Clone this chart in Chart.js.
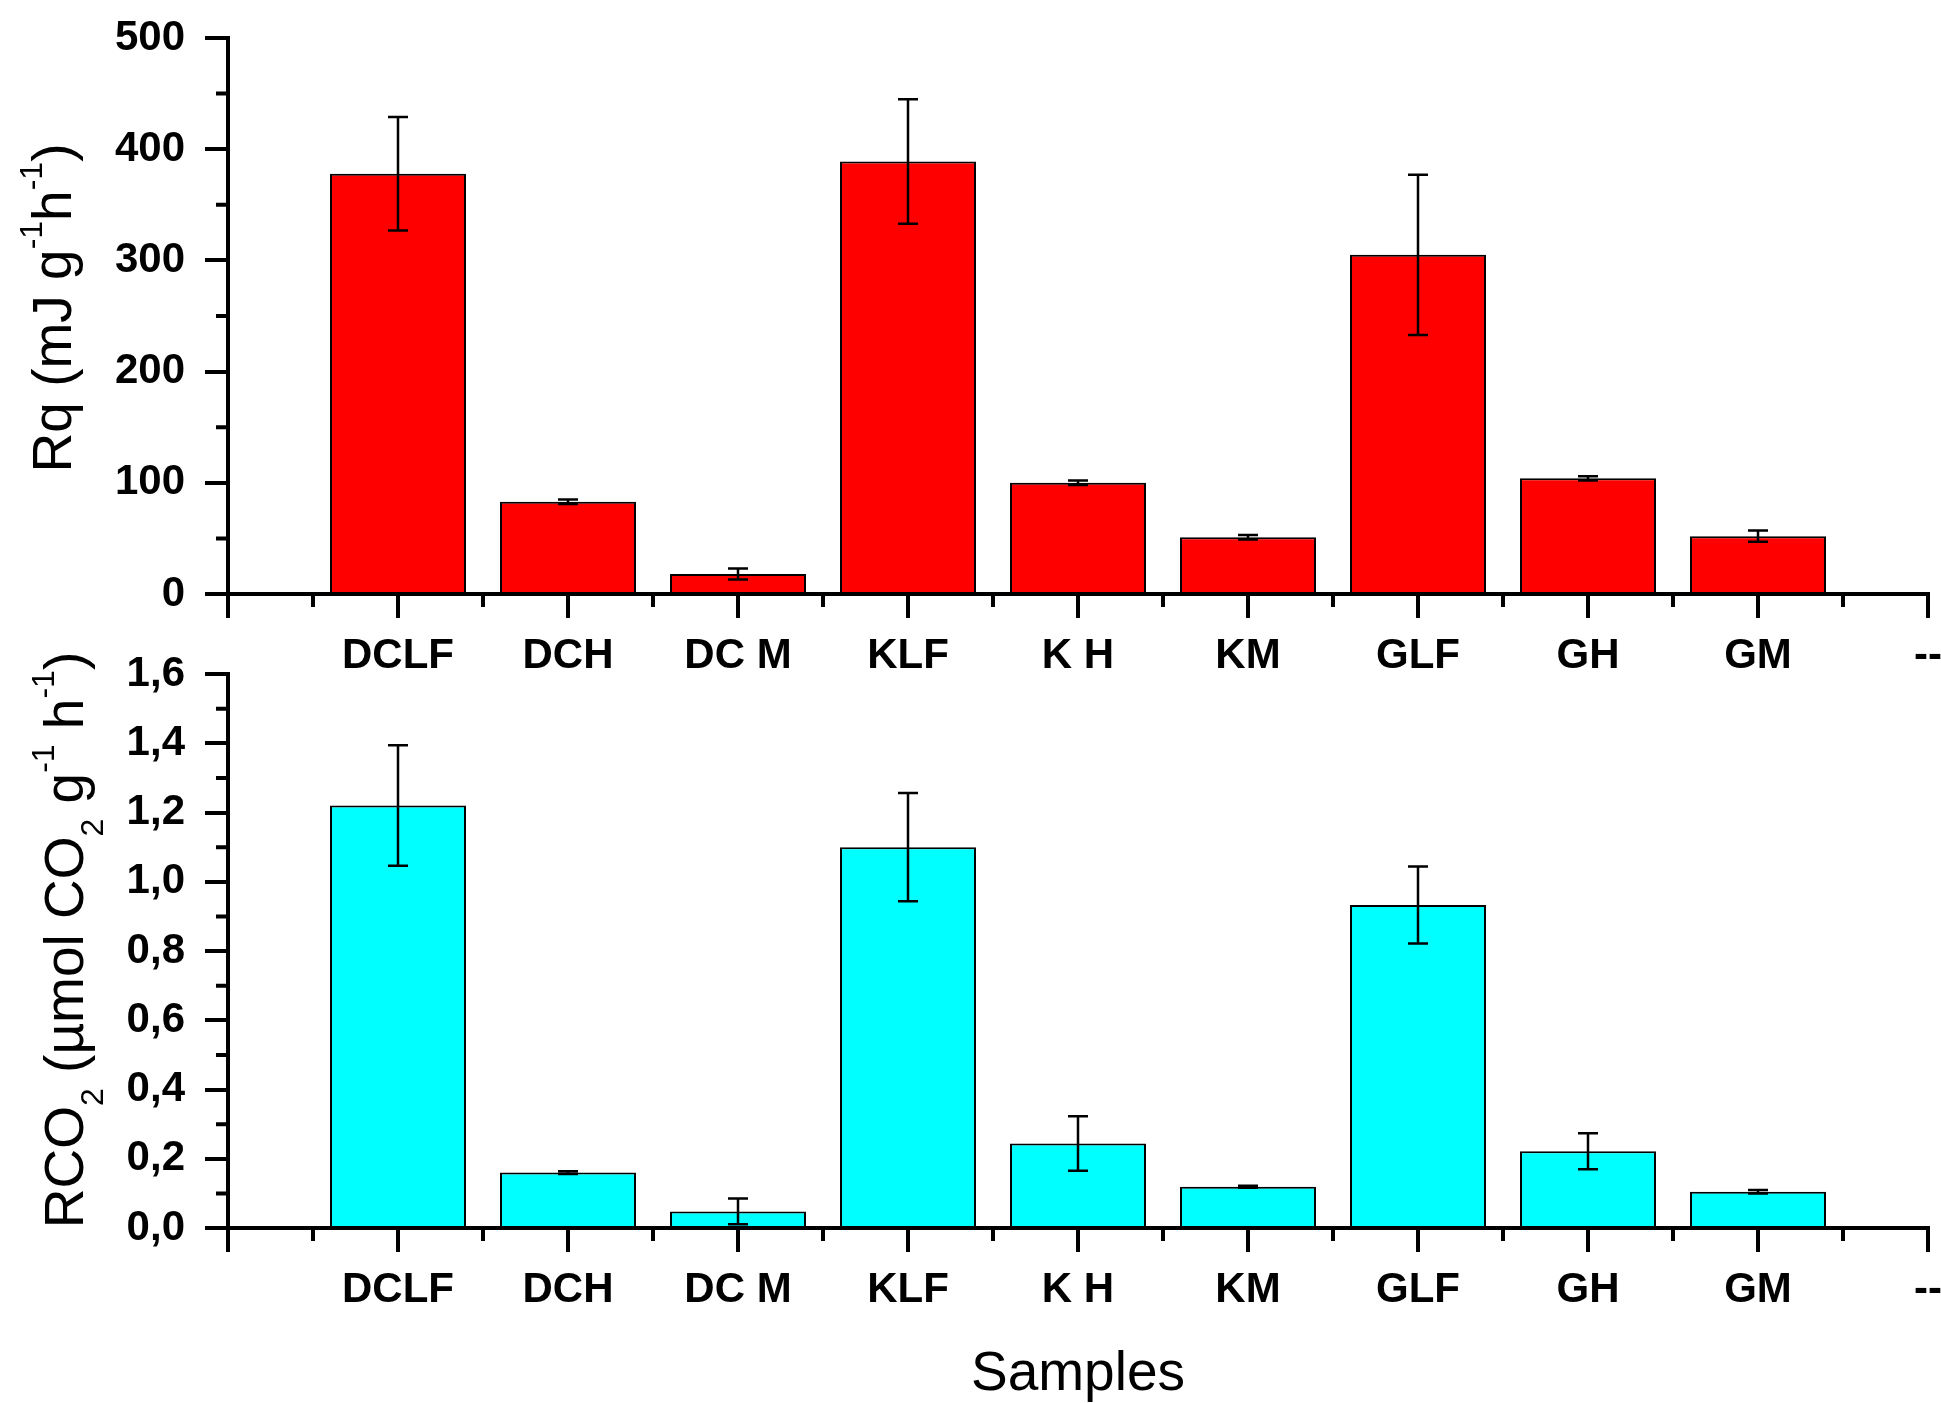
<!DOCTYPE html>
<html>
<head>
<meta charset="utf-8">
<title>Rq and RCO2 by sample</title>
<script src="https://cdn.jsdelivr.net/npm/chart.js@4.4.0/dist/chart.umd.min.js"></script>
<style>
  html, body { margin: 0; padding: 0; background: #fff; }
  body { width: 1941px; height: 1403px; position: relative; overflow: hidden; }
  .panel { position: absolute; left: 0; width: 1941px; }
  #rqWrap { top: 0; height: 700px; }
  #co2Wrap { top: 610px; height: 793px; }
</style>
</head>
<body>
<div id="rqWrap" class="panel"><canvas id="rqCanvas"></canvas></div>
<div id="co2Wrap" class="panel"><canvas id="co2Canvas"></canvas></div>
<script>
// categories (first and last slots are the empty ends of the Origin axis)
const samples = ['', 'DCLF', 'DCH', 'DC M', 'KLF', 'K H', 'KM', 'GLF', 'GH', 'GM', '--'];

// Rq (mJ g-1 h-1)
const rqValues = [null, 378, 83, 18, 389, 100, 51, 305, 104, 52, null];
const rqErrors = [null, 51, 2, 5, 56, 2, 2, 72, 2, 5, null];

// RCO2 (umol CO2 g-1 h-1)
const co2Values = [null, 1.22, 0.16, 0.048, 1.10, 0.244, 0.119, 0.933, 0.222, 0.105, null];
const co2Errors = [null, 0.174, 0.004, 0.037, 0.156, 0.079, 0.003, 0.111, 0.052, 0.005, null];

// axis titles, split where the sub/superscripts are
const rqTitle = [
    { text: 'Rq (mJ g' }, { text: '-1', sup: true }, { text: 'h' }, { text: '-1', sup: true }, { text: ')' }
];
const co2Title = [
    { text: 'RCO' }, { text: '2', sub: true }, { text: ' (\u00b5mol CO' }, { text: '2', sub: true },
    { text: ' g' }, { text: '-1', sup: true }, { text: ' h' }, { text: '-1', sup: true }, { text: ')' }
];
const xTitle = 'Samples';

const fontFamily = "'Liberation Sans', Arial, sans-serif";

// error bars on top of each bar
const errorBarPlugin = {
    id: 'errorBars',
    afterDatasetsDraw(chart, args, opts) {
        const meta = chart.getDatasetMeta(0);
        const yScale = chart.scales.y;
        const ctx = chart.ctx;
        ctx.save();
        ctx.strokeStyle = '#000';
        ctx.lineWidth = 2.5;
        meta.data.forEach((bar, i) => {
            const v = opts.values[i];
            const e = opts.errors[i];
            if (v == null || e == null) return;
            const top = yScale.getPixelForValue(v + e);
            const bottom = yScale.getPixelForValue(v - e);
            ctx.beginPath();
            ctx.moveTo(bar.x, top);
            ctx.lineTo(bar.x, bottom);
            ctx.moveTo(bar.x - 10, top);
            ctx.lineTo(bar.x + 10, top);
            ctx.moveTo(bar.x - 10, bottom);
            ctx.lineTo(bar.x + 10, bottom);
            ctx.stroke();
        });
        ctx.restore();
    }
};

// half-step ticks on both axes
const minorTickPlugin = {
    id: 'minorTicks',
    afterDraw(chart) {
        const xScale = chart.scales.x;
        const yScale = chart.scales.y;
        const ctx = chart.ctx;
        ctx.save();
        ctx.strokeStyle = '#000';
        ctx.lineWidth = 4;
        ctx.beginPath();
        for (let i = 0; i < samples.length - 1; i++) {
            const px = xScale.getPixelForValue(i + 0.5);
            ctx.moveTo(px, yScale.bottom);
            ctx.lineTo(px, yScale.bottom + 13);
        }
        const ticks = yScale.ticks;
        for (let i = 0; i < ticks.length - 1; i++) {
            const py = yScale.getPixelForValue((ticks[i].value + ticks[i + 1].value) / 2);
            ctx.moveTo(xScale.left - 12, py);
            ctx.lineTo(xScale.left, py);
        }
        ctx.stroke();
        ctx.restore();
    }
};

function drawRichText(ctx, segments, x, y, size, vertical) {
    ctx.save();
    const small = Math.round(size * 0.58);
    let total = 0;
    const parts = segments.map(s => {
        const fs = (s.sup || s.sub) ? small : size;
        ctx.font = fs + 'px ' + fontFamily;
        const w = ctx.measureText(s.text).width;
        total += w;
        return { text: s.text, fs: fs, w: w, sup: s.sup, sub: s.sub };
    });
    ctx.translate(x, y);
    if (vertical) ctx.rotate(-Math.PI / 2);
    ctx.fillStyle = '#000';
    ctx.textAlign = 'left';
    ctx.textBaseline = 'alphabetic';
    let cx = -total / 2;
    parts.forEach(p => {
        ctx.font = p.fs + 'px ' + fontFamily;
        const dy = p.sup ? -size * 0.53 : (p.sub ? size * 0.36 : 0);
        ctx.fillText(p.text, cx, dy);
        cx += p.w;
    });
    ctx.restore();
}

const titlePlugin = {
    id: 'axisTitles',
    afterDraw(chart, args, opts) {
        const ctx = chart.ctx;
        drawRichText(ctx, opts.yTitle, opts.yTitleX, opts.yTitleY, 55, true);
        if (opts.xTitle) {
            drawRichText(ctx, [{ text: opts.xTitle }], opts.xTitleX, opts.xTitleY, 55, false);
        }
    }
};

function buildChart(canvasId, cfg) {
    const tickFont = { family: fontFamily, size: 42, weight: 'bold' };
    const axisGrid = (len) => ({
        offset: false,
        drawOnChartArea: false,
        drawTicks: true,
        tickLength: len,
        lineWidth: 4,
        tickWidth: 4,
        color: '#000',
        tickColor: '#000'
    });
    return new Chart(document.getElementById(canvasId), {
        type: 'bar',
        data: {
            labels: samples,
            datasets: [{
                data: cfg.values,
                backgroundColor: cfg.color,
                borderColor: '#000',
                borderWidth: 2,
                barPercentage: 0.8,
                categoryPercentage: 1
            }]
        },
        options: {
            responsive: true,
            maintainAspectRatio: false,
            devicePixelRatio: 1,
            animation: false,
            layout: { padding: { top: cfg.padTop, right: 13, left: 0, bottom: 0 } },
            plugins: {
                legend: { display: false },
                tooltip: { enabled: false },
                errorBars: { values: cfg.values, errors: cfg.errors },
                axisTitles: cfg.titles
            },
            scales: {
                x: {
                    type: 'category',
                    offset: false,
                    grid: axisGrid(24),
                    border: { display: true, color: '#000', width: 4 },
                    ticks: {
                        autoSkip: false,
                        maxRotation: 0,
                        minRotation: 0,
                        padding: 13,
                        color: '#000',
                        font: tickFont
                    },
                    afterFit(scale) {
                        scale.paddingLeft = 0;
                        scale.paddingRight = 0;
                        scale.height = cfg.xHeight;
                    }
                },
                y: {
                    min: 0,
                    max: cfg.yMax,
                    grid: axisGrid(23),
                    border: { display: true, color: '#000', width: 4 },
                    ticks: {
                        stepSize: cfg.yStep,
                        padding: 20,
                        color: '#000',
                        font: tickFont,
                        callback: cfg.format
                    },
                    afterFit(scale) {
                        scale.paddingTop = 0;
                        scale.paddingBottom = 0;
                        scale.width = 228;
                    }
                }
            }
        },
        plugins: [errorBarPlugin, minorTickPlugin, titlePlugin]
    });
}

buildChart('rqCanvas', {
    values: rqValues,
    errors: rqErrors,
    color: '#ff0000',
    yMax: 500,
    yStep: 100,
    format: (v) => String(Math.round(v)),
    padTop: 38,
    xHeight: 106,
    titles: { yTitle: rqTitle, yTitleX: 71, yTitleY: 308 }
});

buildChart('co2Canvas', {
    values: co2Values,
    errors: co2Errors,
    color: '#00ffff',
    yMax: 1.6,
    yStep: 0.2,
    format: (v) => v.toFixed(1).replace('.', ','),
    padTop: 64,
    xHeight: 175,
    titles: { yTitle: co2Title, yTitleX: 83, yTitleY: 330, xTitle: xTitle, xTitleX: 1078, xTitleY: 780 }
});
</script>
</body>
</html>
